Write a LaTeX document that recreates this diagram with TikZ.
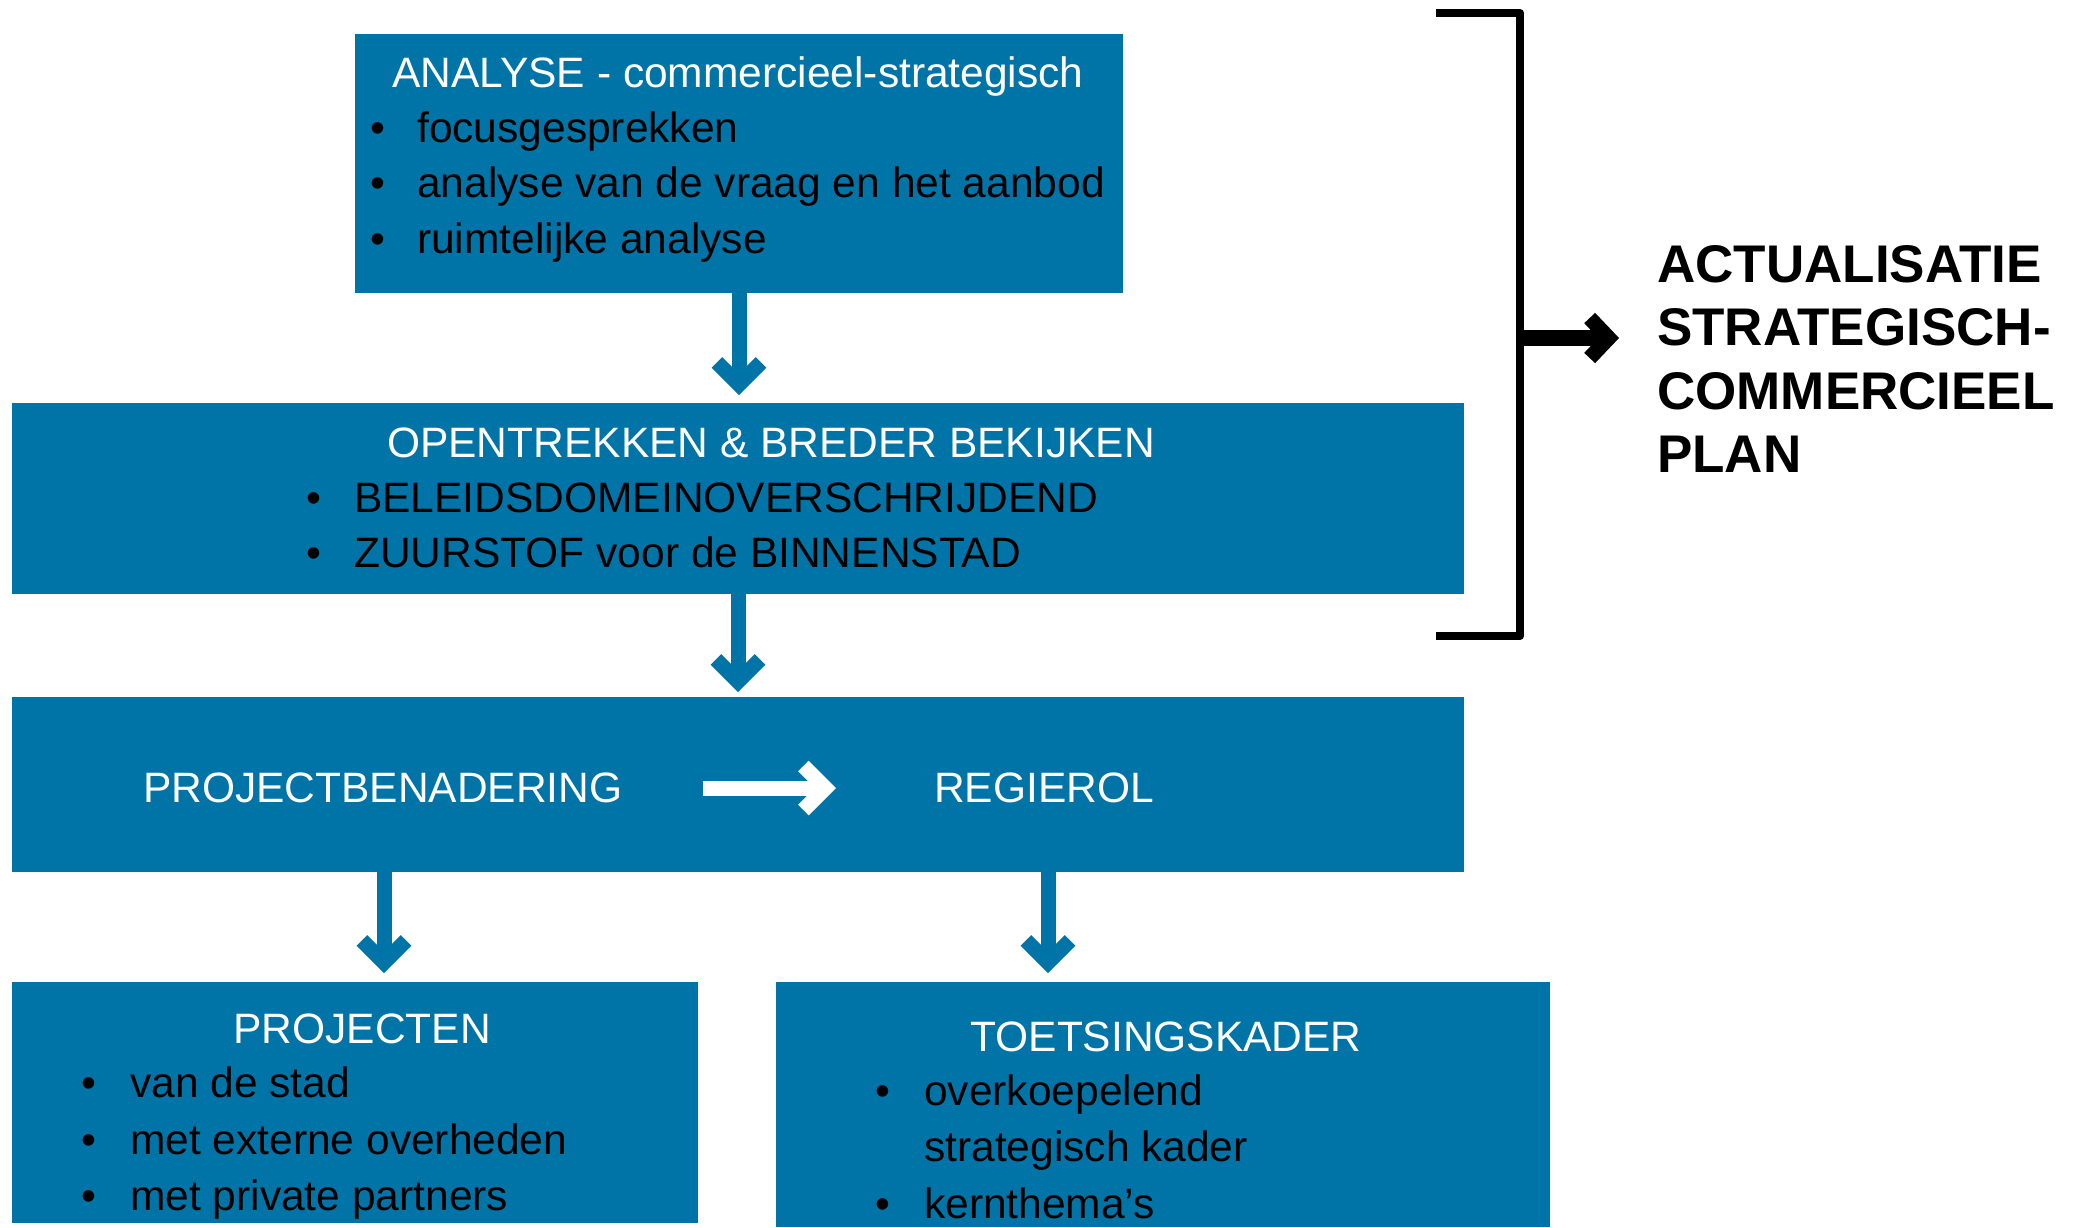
\documentclass[tikz,border=0pt]{standalone}
\usepackage{fontspec}
\setmainfont{Liberation Sans}
\usetikzlibrary{arrows.meta}
\definecolor{boxblue}{RGB}{0,116,166}
\begin{document}
\begin{tikzpicture}[x=1pt,y=-1pt,
  box/.style={fill=boxblue, draw=none, inner sep=0, outer sep=0},
  tx/.style={inner sep=0, anchor=base west, font=\fontsize{42.5}{50}\selectfont},
  hd/.style={inner sep=0, anchor=base, text=white, font=\fontsize{42.5}{50}\selectfont},
  bul/.style={inner sep=0, anchor=base, font=\fontsize{42.5}{50}\selectfont},
  flow/.style={draw=boxblue, line width=15pt, -{Straight Barb[length=22pt,width=44pt]}},
  wflow/.style={draw=white, line width=15pt, -{Straight Barb[length=22pt,width=44pt]}},
  bflow/.style={draw=black, line width=16pt, -{Straight Barb[length=19pt,width=40pt,line width=15pt]}}
]
\useasboundingbox (0,0) rectangle (2078,1227);
% boxes
\node[box, minimum width=768pt, minimum height=259pt] (box1) at (739,163.5) {};
\node[box, minimum width=1452pt, minimum height=191pt] (box2) at (738,498.5) {};
\node[box, minimum width=1452pt, minimum height=175pt] (box3) at (738,784.5) {};
\node[box, minimum width=686pt, minimum height=241pt] (box4) at (355,1102.5) {};
\node[box, minimum width=774pt, minimum height=245pt] (box5) at (1163,1104.5) {};
% box 1 text
\node[hd] (h1) at (738,87) {ANALYSE - commercieel-strategisch};
\node[bul] (b11) at (378,142) {•};
\node[tx] (t11) at (417,142) {focusgesprekken};
\node[bul] (b12) at (378,197) {•};
\node[tx] (t12) at (417,197) {analyse van de vraag en het aanbod};
\node[bul] (b13) at (378,253) {•};
\node[tx] (t13) at (417,253) {ruimtelijke analyse};
% box 2 text
\node[hd] (h2) at (771,457) {OPENTREKKEN \& BREDER BEKIJKEN};
\node[bul] (b21) at (314,512) {•};
\node[tx] (t21) at (354,512) {BELEIDSDOMEINOVERSCHRIJDEND};
\node[bul] (b22) at (314,567) {•};
\node[tx] (t22) at (354,567) {ZUURSTOF voor de BINNENSTAD};
% box 3 text
\node[tx, text=white] (pb) at (143,802) {PROJECTBENADERING};
\node[tx, text=white] (rr) at (934,802) {REGIEROL};
% box 4 text
\node[hd] (h4) at (362,1043) {PROJECTEN};
\node[bul] (b41) at (89,1097) {•};
\node[tx] (t41) at (130,1097) {van de stad};
\node[bul] (b42) at (89,1154) {•};
\node[tx] (t42) at (130,1154) {met externe overheden};
\node[bul] (b43) at (89,1210) {•};
\node[tx] (t43) at (130,1210) {met private partners};
% box 5 text
\node[hd] (h5) at (1166,1051) {TOETSINGSKADER};
\node[bul] (b51) at (883,1105) {•};
\node[tx] (t51) at (924,1105) {overkoepelend};
\node[tx] (t52) at (924,1161) {strategisch kader};
\node[bul] (b53) at (883,1218) {•};
\node[tx] (t53) at (924,1218) {kernthema’s};
% right text
\node[inner sep=0, anchor=north west, text width=430pt, align=left,
      font=\bfseries\fontsize{53}{63.5}\selectfont] (act) at (1657,245)
  {ACTUALISATIE\\STRATEGISCH-\\COMMERCIEEL\\PLAN};
% blue arrows
\coordinate (c3) at (384,900);
\coordinate (c4) at (1048,900);
\draw[flow, shorten >=8pt] (box1.south) -- (box1.south |- box2.north);
\draw[flow, shorten >=5pt] (box2.south) -- (box2.south |- box3.north);
\draw[flow, shorten >=9pt] (box3.south -| c3) -- (box4.north -| c3);
\draw[flow, shorten >=9pt] (box3.south -| c4) -- (box5.north -| c4);
% white arrow
\coordinate (wy) at (0,788);
\draw[wflow, shorten <=80pt, shorten >=98pt] (pb.east |- wy) -- (rr.west |- wy);
% bracket
\coordinate (brt) at (1436,13);
\coordinate (brb) at (1436,636);
\coordinate (bm) at (1520,338);
\draw[line width=8pt, line join=round] (brt) -- (brt -| bm) -- (brb -| bm) -- (brb);
\draw[bflow, shorten >=38pt] (bm) -- (bm -| act.west);
\end{tikzpicture}
\end{document}
